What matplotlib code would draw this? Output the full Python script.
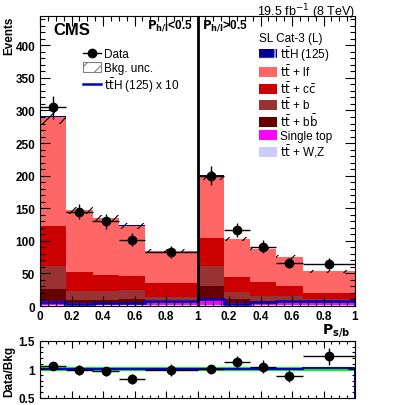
import numpy as np
import matplotlib.pyplot as plt
from matplotlib.patches import Patch
from matplotlib.lines import Line2D

plt.rcParams['font.family'] = ['Liberation Sans', 'DejaVu Sans']
plt.rcParams['hatch.linewidth'] = 0.8

# bin edges: two halves (P_h/l<0.5 and >0.5), each with P_s/b bins
edges = np.array([0, 1/6, 2/6, 3/6, 4/6, 1, 1 + 1/6, 1 + 2/6, 1 + 3/6, 1 + 4/6, 2])

# stacked backgrounds (bottom to top)
ttv = np.array([2, 2, 2, 2, 2, 2, 2, 2, 2, 2])
single_top = np.array([5, 3, 3, 3, 3, 6, 3, 2, 2, 2])
ttbb = np.array([19, 4, 4, 5, 3, 22, 6, 4, 4, 3])
ttb = np.array([35, 14, 14, 14, 6, 31, 11, 8, 7, 4])
ttcc = np.array([62, 29, 25, 22, 21, 44, 23, 21, 16, 9])
ttlf = np.array([167, 95, 87, 77, 49, 95, 58, 50, 44, 33])
tth = np.array([1.5, 0.7, 0.7, 0.8, 1.0, 1.0, 0.5, 0.7, 0.8, 1.0])
tth_x10 = np.array([6, 3, 4, 5, 7, 10, 3, 6, 7, 8])
data = np.array([305, 145, 130, 102, 83, 200, 117, 91, 66, 65])
bkg_rel_unc = 0.035

tick_pos = [0, 0.2, 0.4, 0.6, 0.8, 1, 1.2, 1.4, 1.6, 1.8, 2]
tick_lab = ['0', '0.2', '0.4', '0.6', '0.8', '1', '0.2', '0.4', '0.6', '0.8', '1']

comps = [ttv, single_top, ttbb, ttb, ttcc, ttlf, tth]
colors = ['#ccccff', '#ff00ff', '#660000', '#993333', '#cc0000', '#ff6666', '#000099']

fig = plt.figure(figsize=(3.95, 4.06), dpi=100)
ax = fig.add_axes([40/395, 1 - 307/406, 315/395, 290/406])
rax = fig.add_axes([40/395, 1 - 398.5/406, 315/395, 56.5/406])

centers = 0.5 * (edges[:-1] + edges[1:])
halfw = 0.5 * np.diff(edges)

bottom = np.zeros(len(data), dtype=float)
for vals, col in zip(comps, colors):
    ax.stairs(bottom + vals, edges, baseline=bottom, fill=True, color=col, lw=0)
    bottom = bottom + vals
bkg = bottom - tth

# background uncertainty band
unc = bkg * bkg_rel_unc
ax.bar(edges[:-1], 2 * unc, bottom=bkg - unc, width=np.diff(edges), align='edge',
       fill=False, hatch='//', edgecolor='black', linewidth=0)

ax.stairs(tth_x10, edges, color='#0000cc', lw=1.8)

ax.errorbar(centers, data, xerr=halfw, yerr=np.sqrt(data), fmt='o', color='black',
            ms=6, elinewidth=1, capsize=0)

ax.axvline(1, color='black', lw=2)

ax.set_xlim(0, 2)
ax.set_ylim(0, 445)
ax.set_xticks(tick_pos)
ax.set_xticklabels(tick_lab)
ax.set_xticks(np.arange(0, 2.001, 0.05), minor=True)
ax.set_yticks(np.arange(0, 401, 50))
ax.set_yticks(np.arange(0, 441, 10), minor=True)
for a in (ax, rax):
    a.tick_params(which='both', direction='in', top=True, right=True, labelsize=8.5)
    a.tick_params(which='major', length=7, width=0.8)
    a.tick_params(which='minor', length=3.5, width=0.8)
    for lab in a.get_xticklabels() + a.get_yticklabels():
        lab.set_fontweight('bold')
    for sp in a.spines.values():
        sp.set_linewidth(0.8)
ax.tick_params(axis='x', pad=3)

ax.text(0.041, 0.955, 'CMS', transform=ax.transAxes, fontsize=12, fontweight='bold', va='center')
ax.text(0.485, 0.97, r'$\mathbf{P_{h/l}}$<0.5', transform=ax.transAxes, fontsize=8.5,
        fontweight='bold', ha='right', va='center')
ax.text(0.515, 0.97, r'$\mathbf{P_{h/l}}$>0.5', transform=ax.transAxes, fontsize=8.5,
        fontweight='bold', ha='left', va='center')
fig.text(355/395, 1 - 12/406, r'19.5 fb$^{-1}$ (8 TeV)', fontsize=9, ha='right', va='center')
fig.text(9/395, 1 - 17/406, 'Events', fontsize=8.5, fontweight='bold', rotation=90,
         ha='center', va='top')
fig.text(9/395, 1 - 371/406, 'Data/Bkg', fontsize=8.5, fontweight='bold', rotation=90,
         ha='center', va='center')
fig.text(350/395, 1 - 331/406, r'$\mathbf{P_{s/b}}$', fontsize=10, ha='right', va='center')

# left legend
h_data = Line2D([], [], color='black', marker='o', ms=6, lw=1)
h_unc = Patch(facecolor='white', edgecolor='gray', hatch='//', lw=0.8)
h_sig = Line2D([], [], color='#0000cc', lw=1.8)
leg1 = ax.legend([h_data, h_unc, h_sig], ['Data', 'Bkg. unc.', r'$\mathrm{t\bar{t}}$H (125) x 10'],
                 loc='upper left', bbox_to_anchor=(0.137, 0.888), frameon=False, fontsize=8.5,
                 borderpad=0, borderaxespad=0, labelspacing=0.12, handlelength=1.5,
                 handleheight=0.9, handletextpad=0.3)
ax.add_artist(leg1)

# right legend
labels2 = [r'$\mathrm{t\bar{t}}$H (125)', r'$\mathrm{t\bar{t}}$ + lf', r'$\mathrm{t\bar{t}}$ + c$\mathrm{\bar{c}}$',
           r'$\mathrm{t\bar{t}}$ + b', r'$\mathrm{t\bar{t}}$ + b$\mathrm{\bar{b}}$', 'Single top',
           r'$\mathrm{t\bar{t}}$ + W,Z']
cols2 = ['#000099', '#ff6666', '#cc0000', '#993333', '#660000', '#ff00ff', '#ccccff']
handles2 = [Patch(facecolor=c, edgecolor='none') for c in cols2]
handles2[0] = Patch(facecolor='#000099', edgecolor='white', hatch='+', lw=0)
leg2 = ax.legend(handles2, labels2, title='SL Cat-3 (L)', loc='upper left',
                 bbox_to_anchor=(0.695, 0.945), frameon=False, fontsize=8.5, title_fontsize=8.5,
                 borderpad=0, borderaxespad=0, labelspacing=0.07, handlelength=1.5,
                 handleheight=0.9, handletextpad=0.3, alignment='left')

# ratio panel
rax.stairs(1 + bkg_rel_unc + 0 * bkg, edges, baseline=1 - bkg_rel_unc, fill=True,
           color='#00ff00', lw=0)
rax.stairs(1 + tth / bkg, edges, color='#0000cc', lw=1.5)
ratio = data / bkg
rax.errorbar(centers, ratio, xerr=halfw, yerr=np.sqrt(data) / bkg, fmt='o', color='black',
             ms=6, elinewidth=1, capsize=0)
rax.set_xlim(0, 2)
rax.set_ylim(0.5, 1.5)
rax.set_yticks([0.5, 1, 1.5])
rax.set_yticklabels(['0.5', '1', '1.5'], fontweight='bold')
rax.set_yticks(np.arange(0.5, 1.51, 0.1), minor=True)
rax.set_xticks(tick_pos)
rax.set_xticks(np.arange(0, 2.001, 0.05), minor=True)
rax.set_xticklabels([])
rax.tick_params(which='major', length=5)
rax.tick_params(which='minor', length=2.5)

fig.savefig('out.png', dpi=100)
